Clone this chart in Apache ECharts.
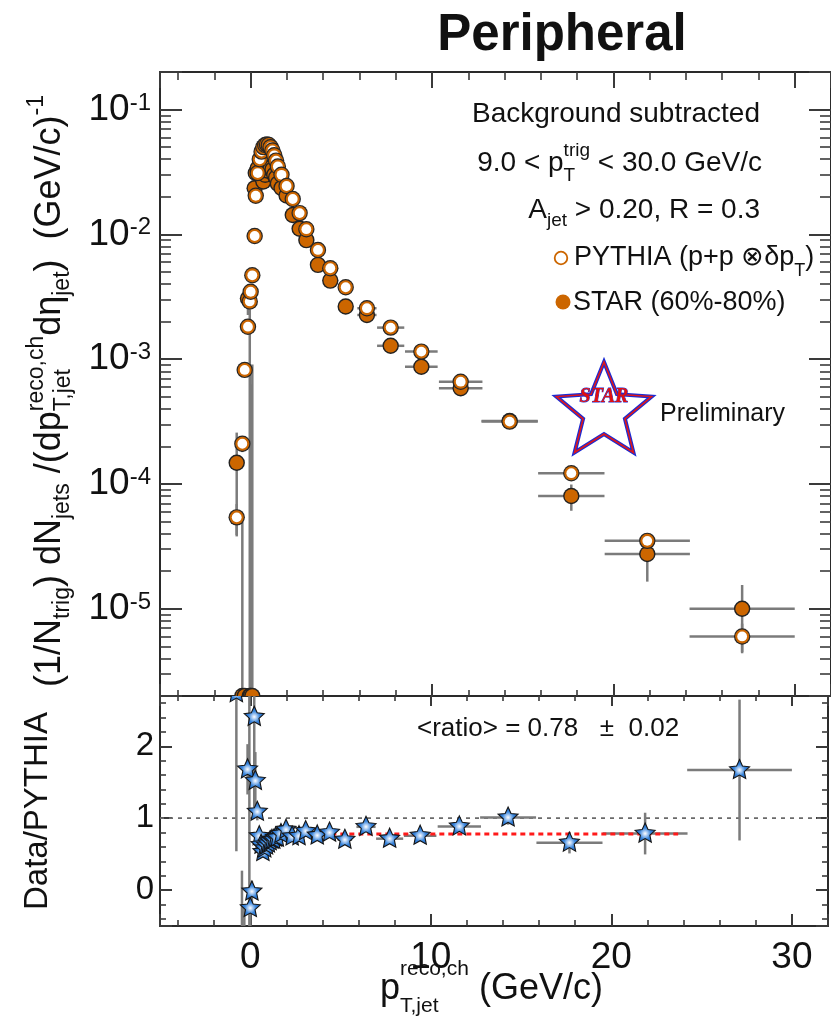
<!DOCTYPE html>
<html>
<head>
<meta charset="utf-8">
<script src="https://cdn.jsdelivr.net/npm/echarts@6/dist/echarts.min.js"></script>
<style>
  html, body { margin: 0; padding: 0; background: #ffffff; }
  #chart { width: 831px; height: 1024px; }
</style>
</head>
<body>
<div id="chart"></div>
<script>
// ---------------------------------------------------------------------------
// Data: charged-jet yield per trigger vs reconstructed jet pT (peripheral)
// ---------------------------------------------------------------------------
const pTBinCenters = [
  -0.77, -0.46, -0.33, -0.15, -0.05, 0.0, 0.09, 0.22, 0.28, 0.39,
  0.5, 0.6, 0.7, 0.8, 0.9, 1.0, 1.1, 1.2, 1.3, 1.4,
  1.5, 1.7, 1.98, 2.32, 2.7, 3.07, 3.71, 4.39, 5.24, 6.41,
  7.72, 9.41, 11.58, 14.28, 17.68, 21.87, 27.1
];
const pTBinHalfWidths = [
  0, 0, 0, 0, 0, 0, 0, 0, 0, 0,
  0, 0, 0, 0, 0, 0, 0, 0, 0, 0,
  0, 0, 0.15, 0.2, 0.2, 0.25, 0.3, 0.35, 0.4, 0.53,
  0.75, 0.9, 1.2, 1.55, 1.83, 2.35, 2.9
];
// PYTHIA p+p embedded (open circles)
const pythiaYield = [
  5.4e-5, 2.1e-4, 8.2e-4, 1.82e-3, 2.9e-3, 3.47e-3, 4.7e-3, 9.7e-3, 2.04e-2, 3.1e-2,
  4.0e-2, 4.6e-2, 5.0e-2, 5.2e-2, 5.25e-2, 5.2e-2, 5.0e-2, 4.7e-2, 4.3e-2, 3.9e-2,
  3.5e-2, 3.0e-2, 2.44e-2, 1.92e-2, 1.48e-2, 1.10e-2, 7.5e-3, 5.35e-3, 3.77e-3, 2.56e-3,
  1.79e-3, 1.15e-3, 6.6e-4, 3.16e-4, 1.22e-4, 3.5e-5, 6.0e-6
];
const pythiaYieldErr = [
  1.5e-5, 3e-5, 6e-5, 1e-4, 1.2e-4, 1.3e-4, 1.5e-4, 2e-4, 3e-4, 4e-4,
  5e-4, 5e-4, 5e-4, 5e-4, 5e-4, 5e-4, 5e-4, 5e-4, 5e-4, 4e-4,
  4e-4, 3e-4, 3e-4, 2.5e-4, 2e-4, 1.5e-4, 1e-4, 8e-5, 6e-5, 4e-5,
  3e-5, 2e-5, 1.5e-5, 1e-5, 6e-6, 3e-6, 1.6e-6
];
// STAR Au+Au 60%-80% (filled circles)
const starYield = [
  1.48e-4, -1.5e-4, -9.8e-4, 3.06e-3, -4.4e-3, -8.7e-4, -9.4e-5, 2.34e-2, 3.1e-2, 3.38e-2,
  3.0e-2, 2.9e-2, 2.65e-2, 3.0e-2, 3.25e-2, 3.4e-2, 3.4e-2, 3.3e-2, 3.0e-2, 2.85e-2,
  2.55e-2, 2.35e-2, 2.05e-2, 1.43e-2, 1.11e-2, 9.0e-3, 5.7e-3, 4.26e-3, 2.64e-3, 2.26e-3,
  1.28e-3, 8.7e-4, 5.85e-4, 3.2e-4, 8.0e-5, 2.75e-5, 1.0e-5
];
const starYieldErr = [
  1.1e-4, 2.0e-4, 9e-4, 8e-4, 6.9e-3, 1.5e-3, 1.0e-3, 2.5e-3, 2e-3, 1.5e-3,
  1e-3, 1e-3, 1e-3, 1e-3, 1e-3, 1e-3, 1e-3, 1e-3, 1e-3, 1e-3,
  1e-3, 8e-4, 6e-4, 5e-4, 4e-4, 3e-4, 2.5e-4, 2e-4, 1.5e-4, 1.2e-4,
  8e-5, 6e-5, 4e-5, 3e-5, 1.9e-5, 1.1e-5, 5.5e-6
];
// Data / PYTHIA (stars)
const ratioValues = [
  2.74, -0.71, -1.2, 1.68, -1.52, -0.25, -0.02, 2.41, 1.52, 1.09,
  0.75, 0.63, 0.53, 0.58, 0.62, 0.65, 0.68, 0.70, 0.70, 0.73,
  0.73, 0.78, 0.84, 0.745, 0.75, 0.82, 0.76, 0.80, 0.70, 0.88,
  0.715, 0.757, 0.886, 1.01, 0.66, 0.786, 1.67
];
const ratioErr = [
  2.2, 0.98, 1.0, 0.35, 4.5, 0.3, 0.15, 1.3, 0.4, 0.12,
  0.04, 0.04, 0.04, 0.04, 0.04, 0.04, 0.04, 0.04, 0.04, 0.04,
  0.04, 0.04, 0.04, 0.04, 0.04, 0.04, 0.04, 0.05, 0.05, 0.06,
  0.06, 0.07, 0.08, 0.1, 0.15, 0.29, 0.98
];
const meanRatio = 0.78;
const meanRatioErr = 0.02;
const fitRange = [1.0, 23.7];

const xTickLabels = [0, 10, 20, 30];
const ratioTickLabels = [0, 1, 2];

// ---------------------------------------------------------------------------
// Axis ranges and styling
// ---------------------------------------------------------------------------
const X_MIN = -5, X_MAX = 32;
const TOP_Y_MIN = 2e-6, TOP_Y_MAX = 0.2;
const RATIO_MIN = -0.5, RATIO_MAX = 2.7;
const LOG_FLOOR = 1e-9;

const SANS = "'Liberation Sans', Arial, Helvetica, sans-serif";
const ORANGE = '#cc6600';
const ERR_COLOR = '#7b7b7b';
const ERR_WIDTH = 2.5;
const TEXT = '#111111';

const axisLineStyle = { color: '#2a2a2a', width: 2 };
const tickStyle = { color: '#3a3a3a', width: 2 };
const minorStyle = { color: '#3a3a3a', width: 1.6 };

// ---------------------------------------------------------------------------
// Text helpers for sub/superscripted labels
// ---------------------------------------------------------------------------
const measureCtx = document.createElement('canvas').getContext('2d');
function widthOf(str, size, weight) {
  measureCtx.font = (weight || 'normal') + ' ' + size + 'px ' + SANS;
  return measureCtx.measureText(str).width;
}
// parts: {t, size, dy} or {stack: [{t,size,dy}, ...]}; dy is a baseline offset
function textRun(parts) {
  const children = [];
  let x = 0;
  parts.forEach(function (p) {
    const pieces = p.stack || [p];
    let w = 0;
    pieces.forEach(function (q) {
      children.push({
        type: 'text', x: x, y: (q.dy || 0) - 0.31 * q.size, silent: true,
        style: { text: q.t, fontSize: q.size, fontFamily: SANS, fill: TEXT,
                 align: 'left', verticalAlign: 'middle' }
      });
      w = Math.max(w, widthOf(q.t, q.size));
    });
    x += w;
  });
  return { children: children, width: x };
}
function placedRun(parts, x, y, align, rotation) {
  const run = textRun(parts);
  let shift = 0;
  if (align === 'right') shift = -run.width;
  else if (align === 'center') shift = -run.width / 2;
  run.children.forEach(function (c) { c.x += shift; });
  return { type: 'group', x: x, y: y, rotation: rotation || 0, children: run.children };
}
function starPolygon(cx, cy, R, r) {
  const pts = [];
  for (let k = 0; k < 10; k++) {
    const ang = -Math.PI / 2 + k * Math.PI / 5;
    const rad = (k % 2 === 0) ? R : r;
    pts.push([cx + rad * Math.cos(ang), cy + rad * Math.sin(ang)]);
  }
  return pts;
}

// ---------------------------------------------------------------------------
// Custom renderers
// ---------------------------------------------------------------------------
function clampLog(v) { return v > 0 ? v : LOG_FLOOR; }
function segment(a, b) {
  return { type: 'line', shape: { x1: a[0], y1: a[1], x2: b[0], y2: b[1] },
           style: { stroke: ERR_COLOR, lineWidth: ERR_WIDTH } };
}
function renderYieldErrors(params, api) {
  const x = api.value(0), y = api.value(1), hw = api.value(2), err = api.value(3);
  const yc = Math.max(y, TOP_Y_MIN);
  const els = [];
  if (y + err > 0) els.push(segment(api.coord([x, clampLog(y - err)]), api.coord([x, y + err])));
  if (hw > 0) els.push(segment(api.coord([x - hw, yc]), api.coord([x + hw, yc])));
  return { type: 'group', children: els };
}
function renderRatioErrors(params, api) {
  const x = api.value(0), y = api.value(1), hw = api.value(2), err = api.value(3);
  const els = [segment(api.coord([x, y - err]), api.coord([x, y + err]))];
  if (hw > 0) els.push(segment(api.coord([x - hw, y]), api.coord([x + hw, y])));
  return { type: 'group', children: els };
}
function renderStarYield(params, api) {
  const p = api.coord([api.value(0), Math.max(api.value(1), TOP_Y_MIN)]);
  return { type: 'group', children: [
    { type: 'circle', shape: { cx: p[0], cy: p[1], r: 8.2 }, style: { fill: '#222222' } },
    { type: 'circle', shape: { cx: p[0], cy: p[1], r: 6.8 }, style: { fill: ORANGE } }
  ] };
}
function renderPythiaYield(params, api) {
  const p = api.coord([api.value(0), Math.max(api.value(1), TOP_Y_MIN)]);
  return { type: 'group', children: [
    { type: 'circle', shape: { cx: p[0], cy: p[1], r: 8.2 }, style: { fill: '#262626' } },
    { type: 'circle', shape: { cx: p[0], cy: p[1], r: 7.0 }, style: { fill: ORANGE } },
    { type: 'circle', shape: { cx: p[0], cy: p[1], r: 4.9 }, style: { fill: '#ffffff' } }
  ] };
}
function renderRatioStar(params, api) {
  const p = api.coord([api.value(0), api.value(1)]);
  return { type: 'polygon', shape: { points: starPolygon(p[0], p[1], 10.5, 5) },
    style: {
      fill: new echarts.graphic.RadialGradient(0.5, 0.55, 0.55, [
        { offset: 0, color: '#ffffff' },
        { offset: 0.18, color: '#b9d4f5' },
        { offset: 0.5, color: '#3a86dc' },
        { offset: 1, color: '#1458b8' }
      ]),
      stroke: '#151515', lineWidth: 1.1
    } };
}

// ---------------------------------------------------------------------------
// Series data built from the arrays above
// ---------------------------------------------------------------------------
const pythiaData = pTBinCenters.map((x, i) => [x, pythiaYield[i], pTBinHalfWidths[i], pythiaYieldErr[i]]);
const starData = pTBinCenters.map((x, i) => [x, starYield[i], pTBinHalfWidths[i], starYieldErr[i]]);
const ratioData = pTBinCenters.map((x, i) => [x, ratioValues[i], pTBinHalfWidths[i], ratioErr[i]]);

// ---------------------------------------------------------------------------
// Axes
// ---------------------------------------------------------------------------
function xAxisDef(gridIndex, position, major, minor, withLabels) {
  return {
    type: 'value', gridIndex: gridIndex, position: position, min: X_MIN, max: X_MAX,
    axisLine: { show: true, onZero: false, lineStyle: axisLineStyle },
    axisTick: { show: true, inside: true, length: major, lineStyle: tickStyle },
    minorTick: { show: true, splitNumber: 5, length: minor, lineStyle: minorStyle },
    splitLine: { show: false }, minorSplitLine: { show: false },
    axisLabel: withLabels ? {
      show: true, margin: 13, fontSize: 37, fontFamily: SANS, color: TEXT,
      formatter: v => (xTickLabels.indexOf(v) >= 0 ? String(v) : '')
    } : { show: false }
  };
}
function logAxisDef(position, withLabels) {
  return {
    type: 'log', logBase: 10, gridIndex: 0, position: position,
    min: TOP_Y_MIN, max: TOP_Y_MAX,
    axisLine: { show: true, onZero: false, lineStyle: axisLineStyle },
    axisTick: { show: true, inside: true, length: 22, lineStyle: tickStyle },
    minorTick: { show: true, splitNumber: 9, length: 11, lineStyle: minorStyle },
    splitLine: { show: false }, minorSplitLine: { show: false },
    axisLabel: withLabels ? {
      show: true, margin: 9, color: TEXT, fontFamily: SANS,
      formatter: function (v) {
        const e = Math.log10(v), r = Math.round(e);
        return Math.abs(e - r) < 1e-6 ? '{b|10}{s|' + r + '}' : '';
      },
      rich: {
        b: { fontSize: 37, fontFamily: SANS, color: TEXT, lineHeight: 37, padding: [10, 0, 0, 0], verticalAlign: 'bottom' },
        s: { fontSize: 24, fontFamily: SANS, color: TEXT, lineHeight: 24, verticalAlign: 'top' }
      }
    } : { show: false }
  };
}
function ratioAxisDef(position, withLabels) {
  return {
    type: 'value', gridIndex: 1, position: position,
    min: RATIO_MIN, max: RATIO_MAX, splitNumber: 3,
    axisLine: { show: true, onZero: false, lineStyle: axisLineStyle },
    axisTick: { show: true, inside: true, length: 12, lineStyle: tickStyle },
    minorTick: { show: true, splitNumber: 5, length: 6, lineStyle: minorStyle },
    splitLine: { show: false }, minorSplitLine: { show: false },
    axisLabel: withLabels ? {
      show: true, margin: 6, fontSize: 33, fontFamily: SANS, color: TEXT,
      formatter: v => (ratioTickLabels.indexOf(v) >= 0 ? String(v) : '')
    } : { show: false }
  };
}

// ---------------------------------------------------------------------------
// Annotations
// ---------------------------------------------------------------------------
const graphics = [];
// panel title
graphics.push({ type: 'text', x: 562, y: 36, silent: true,
  style: { text: 'Peripheral', fontSize: 51, fontWeight: 'bold', fontFamily: SANS, fill: TEXT,
           align: 'center', verticalAlign: 'middle' } });
// selection / legend block
graphics.push(placedRun([{ t: 'Background subtracted', size: 28 }], 760, 123, 'right'));
graphics.push(placedRun([
  { t: '9.0 < p', size: 28 },
  { stack: [{ t: 'trig', size: 19, dy: -15 }, { t: 'T', size: 19, dy: 10 }] },
  { t: ' < 30.0 GeV/c', size: 28 }
], 762, 172, 'right'));
graphics.push(placedRun([
  { t: 'A', size: 28 }, { t: 'jet', size: 19, dy: 8 }, { t: ' > 0.20, R = 0.3', size: 28 }
], 760, 219, 'right'));
graphics.push({ type: 'circle', shape: { cx: 561, cy: 258, r: 6.3 }, silent: true,
  style: { fill: '#ffffff', stroke: ORANGE, lineWidth: 1.8 } });
graphics.push(placedRun([
  { t: 'PYTHIA (p+p \u2297\u03b4p', size: 27 }, { t: 'T', size: 18, dy: 11 }, { t: ')', size: 27 }
], 574, 266, 'left'));
graphics.push({ type: 'circle', shape: { cx: 563, cy: 302, r: 7.5 }, silent: true,
  style: { fill: ORANGE } });
graphics.push(placedRun([{ t: 'STAR (60%-80%)', size: 27 }], 573, 311, 'left'));
// STAR Preliminary logo
graphics.push({ type: 'polygon', silent: true, shape: { points: starPolygon(604, 412, 50, 22) },
  style: { fill: '#ffffff', stroke: '#1b2bd4', lineWidth: 4 } });
graphics.push({ type: 'polygon', silent: true, shape: { points: starPolygon(604, 412, 50, 22) },
  style: { fill: 'none', stroke: '#e01818', lineWidth: 1.6 } });
graphics.push({ type: 'text', x: 604, y: 397, silent: true,
  style: { text: 'STAR', fontSize: 20, fontWeight: 'bold', fontStyle: 'italic',
           fontFamily: "'Liberation Serif', 'DejaVu Serif', serif", fill: '#e01010',
           stroke: '#1b2bd4', lineWidth: 0.8, align: 'center', verticalAlign: 'middle' } });
graphics.push({ type: 'text', x: 660, y: 414, silent: true,
  style: { text: 'Preliminary', fontSize: 25, fontFamily: SANS, fill: TEXT,
           align: 'left', verticalAlign: 'middle' } });
// mean ratio
graphics.push({ type: 'text', x: 417, y: 729, silent: true,
  style: { text: '<ratio> = ' + meanRatio.toFixed(2) + '   \u00b1  ' + meanRatioErr.toFixed(2),
           fontSize: 26, fontFamily: SANS, fill: TEXT, align: 'left', verticalAlign: 'middle' } });
// axis titles
graphics.push(placedRun([
  { t: '(1/N', size: 36 }, { t: 'trig', size: 23, dy: 9 },
  { t: ') dN', size: 36 }, { t: 'jets', size: 23, dy: 9 },
  { t: ' /(dp', size: 36 },
  { stack: [{ t: 'reco,ch', size: 23, dy: -17 }, { t: 'T,jet', size: 23, dy: 10 }] },
  { t: 'd\u03b7', size: 36 }, { t: 'jet', size: 23, dy: 9 },
  { t: ')  (GeV/c)', size: 36 }, { t: '-1', size: 23, dy: -17 }
], 61, 391, 'center', Math.PI / 2));
graphics.push({ type: 'text', x: 38, y: 811, rotation: Math.PI / 2, silent: true,
  style: { text: 'Data/PYTHIA', fontSize: 33, fontFamily: SANS, fill: TEXT,
           align: 'center', verticalAlign: 'middle' } });
graphics.push(placedRun([
  { t: 'p', size: 36 },
  { stack: [{ t: 'reco,ch', size: 21, dy: -24 }, { t: 'T,jet', size: 21, dy: 13 }] },
  { t: ' (GeV/c)', size: 36 }
], 380, 1000, 'left'));

// ---------------------------------------------------------------------------
// Chart
// ---------------------------------------------------------------------------
const chart = echarts.init(document.getElementById('chart'), null, { renderer: 'canvas' });
chart.setOption({
  animation: false,
  backgroundColor: '#ffffff',
  grid: [
    { left: 160, top: 72, width: 671, height: 624 },
    { left: 160, top: 696, width: 671, height: 230 }
  ],
  xAxis: [
    xAxisDef(0, 'bottom', 12, 6, false),
    xAxisDef(0, 'top', 16, 8, false),
    xAxisDef(1, 'bottom', 12, 6, true),
    xAxisDef(1, 'top', 10, 5, false)
  ],
  yAxis: [
    logAxisDef('left', true),
    logAxisDef('right', false),
    ratioAxisDef('left', true),
    ratioAxisDef('right', false)
  ],
  series: [
    { name: 'yield errors PYTHIA', type: 'custom', xAxisIndex: 0, yAxisIndex: 0, clip: true, z: 2,
      encode: { x: 0, y: 1 }, data: pythiaData, renderItem: renderYieldErrors, silent: true },
    { name: 'yield errors STAR', type: 'custom', xAxisIndex: 0, yAxisIndex: 0, clip: true, z: 2,
      encode: { x: 0, y: 1 }, data: starData, renderItem: renderYieldErrors, silent: true },
    { name: 'STAR (60%-80%)', type: 'custom', xAxisIndex: 0, yAxisIndex: 0, clip: true, z: 3,
      encode: { x: 0, y: 1 }, data: starData, renderItem: renderStarYield, silent: true },
    { name: 'PYTHIA', type: 'custom', xAxisIndex: 0, yAxisIndex: 0, clip: true, z: 4,
      encode: { x: 0, y: 1 }, data: pythiaData, renderItem: renderPythiaYield, silent: true },
    { name: 'unity', type: 'line', xAxisIndex: 2, yAxisIndex: 2, z: 1, symbol: 'none', silent: true,
      data: [[X_MIN, 1], [X_MAX, 1]],
      lineStyle: { color: '#6a6a6a', width: 1.8, type: [4, 5] } },
    { name: 'ratio errors', type: 'custom', xAxisIndex: 2, yAxisIndex: 2, clip: true, z: 2,
      encode: { x: 0, y: 1 }, data: ratioData, renderItem: renderRatioErrors, silent: true },
    { name: 'mean ratio', type: 'line', xAxisIndex: 2, yAxisIndex: 2, z: 3, symbol: 'none', silent: true,
      data: [[fitRange[0], meanRatio], [fitRange[1], meanRatio]],
      lineStyle: { color: '#ff1a1a', width: 3, type: [5, 4] } },
    { name: 'Data/PYTHIA', type: 'custom', xAxisIndex: 2, yAxisIndex: 2, clip: true, z: 4,
      encode: { x: 0, y: 1 }, data: ratioData, renderItem: renderRatioStar, silent: true }
  ],
  graphic: { elements: graphics }
});
</script>
</body>
</html>
